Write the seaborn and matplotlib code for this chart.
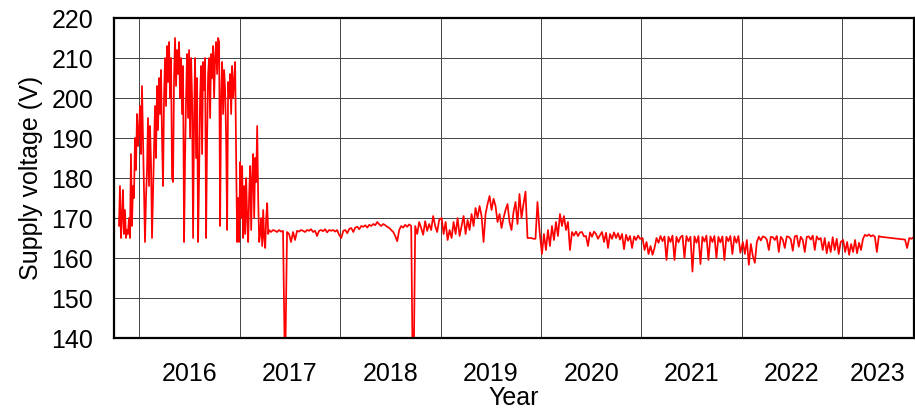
import pandas as pd
import matplotlib
matplotlib.use('Agg')
import matplotlib.pyplot as plt
import matplotlib.dates as mdates
import seaborn as sns

# supply voltage (V), one list per stretch of time
v_2016 = [168, 178, 165, 170, 177, 166, 172, 165, 167, 166,
          170, 165, 186, 168, 178, 175, 190, 182, 196, 188,
          192, 198, 186, 203, 190, 178, 164, 175, 182, 195,
          178, 193, 184, 165, 176, 188, 198, 185, 203, 192,
          205, 196, 207, 190, 178, 200, 210, 198, 213, 204,
          214, 200, 210, 180, 179, 205, 215, 203, 212, 206,
          214, 200, 210, 196, 208, 164, 185, 200, 211, 195,
          212, 190, 210, 200, 165, 195, 210, 185, 205, 164,
          180, 200, 208, 186, 209, 202, 210, 165, 190, 206,
          210, 195, 211, 205, 213, 200, 210, 214, 206, 215,
          214, 168, 200, 209, 196, 207, 202, 190, 167, 204,
          200, 206, 196, 208, 200, 204, 209, 185, 164, 175,
          164, 184, 170, 183, 165, 178, 166, 180, 170, 164,
          176, 183, 167, 180, 186, 170, 185, 179, 193, 175,
          164, 166, 170, 163, 172, 165, 162.5, 170, 173.7, 166]
v_2017 = [167, 166.5, 167, 166.8, 166.5, 167, 166.6, 166.8, 130, 166.5,
          166, 164, 166.5, 164.5, 166.8, 166.6, 167, 166.8, 166.5, 167,
          166.8, 167.2, 166.5, 166.8, 165.5, 166.8, 167, 166.7, 167.2, 166.4,
          167, 166.8, 167, 166.6, 167, 165.8]
v_2018 = [165, 166.8, 167, 166.2, 167.3, 167.5, 166.5, 167.6, 167.8, 167.2,
          168, 167.8, 168.2, 167.6, 168.3, 168, 168.5, 168.2, 169, 168.4,
          168, 168.5, 168.2, 167.8, 167.5, 167, 166.5, 165.5, 164.2, 167,
          168, 167.6, 168.3, 167.8, 168.4, 168, 120, 168, 166, 169,
          167.5, 165.8, 169.2, 166.8, 168.5, 167, 170.5, 168, 166.5, 169.5]
v_2019 = [170, 166, 169, 164.5, 167, 165, 169, 166, 170, 165.5,
          168, 170.5, 166, 169.5, 167, 171, 168, 172.5, 170, 173,
          170.5, 164, 171, 173.5, 175.5, 172, 174.8, 173, 169, 171,
          167.5, 170, 172, 173.5, 169, 167, 171.5, 174, 168.5, 176,
          170, 173.5, 176.6, 165, 165, 165, 164.8, 164.8, 174, 167]
v_2020 = [161, 166, 162, 167, 163, 168, 164.5, 169, 165.5, 171,
          168, 170.5, 167, 169, 162, 166.5, 165.6, 166.6, 165.5, 166.4,
          166.5, 165.4, 165.5, 163, 166.4, 165.3, 166.6, 166, 164.8, 165.7,
          166.5, 164, 166.3, 162.5, 166, 164.8, 166.4, 165, 166.2, 164.6,
          166, 162.2, 165.8, 164.3, 165.5, 162.5, 165.4, 164.5, 165.6, 164.8]
v_2021 = [165, 162, 164, 161, 163, 160.8, 162.5, 165, 163.8, 165.5,
          164.2, 165.4, 159.5, 165.3, 164, 165.6, 159.5, 165.3, 163.9, 165.2,
          165.6, 160, 165.5, 164.2, 165.3, 156.6, 165.4, 163.8, 165.5, 158.5,
          165.3, 164.1, 165.6, 159.5, 165.4, 164, 165.5, 160, 165.3, 163.9,
          165.4, 159.5, 165.3, 164.2, 165.5, 161, 165.4, 163.8, 165.5, 161.3]
v_2022 = [164, 161, 164.5, 158.3, 163.5, 160.5, 158.8, 164, 165.3, 164.4,
          165.4, 165.2, 164.6, 162, 165.3, 165.2, 164.5, 165.5, 161.5, 165.3,
          164.6, 162.5, 165.4, 165.3, 164.7, 161.8, 165.4, 165.6, 162.8, 165.3,
          164.5, 161.5, 165.3, 165.4, 164.6, 165.6, 162, 165.4, 164.6, 165,
          162, 165, 161.2, 164, 161.5, 165.2, 162, 164.8, 161, 164]
v_2023a = [164.5, 161.5, 164, 160.8, 163.5, 161.5, 164.5, 161.2, 163.8, 162,
           164.8, 165.8, 165.5, 165.9, 165.4, 165.7, 165.3, 161.5, 165.5, 165.3]
v_2023b = [164.6, 162.5, 165, 164.8, 165.2]

stretches = [v_2016, v_2017, v_2018, v_2019, v_2020, v_2021, v_2022, v_2023a, v_2023b]
# first and last reading date of each stretch
spans = [('2015-10-19', '2017-04-14'), ('2017-04-17', '2017-12-28'),
         ('2018-01-05', '2018-12-27'), ('2019-01-05', '2019-12-27'),
         ('2020-01-05', '2020-12-27'), ('2021-01-05', '2021-12-27'),
         ('2022-01-05', '2022-12-27'), ('2023-01-05', '2023-05-22'),
         ('2023-08-18', '2023-09-18')]
years = [2016, 2017, 2018, 2019, 2020, 2021, 2022, 2023]
x_start, x_end = pd.Timestamp('2015-10-01'), pd.Timestamp('2023-09-20')

parts = []
for vals, (a, b) in zip(stretches, spans):
    parts.append(pd.DataFrame({'date': pd.date_range(a, b, periods=len(vals)),
                               'voltage': vals}))
df = pd.concat(parts, ignore_index=True)

sns.set_style('white')
plt.rcParams['font.family'] = ['Liberation Sans', 'DejaVu Sans']
plt.rcParams['text.color'] = 'black'
plt.rcParams['axes.labelcolor'] = 'black'
plt.rcParams['xtick.color'] = 'black'
plt.rcParams['ytick.color'] = 'black'

fig = plt.figure(figsize=(9.15, 4.12), dpi=100)
ax = fig.add_axes([0.1246, 0.1796, 0.8744, 0.7767])
sns.lineplot(data=df, x='date', y='voltage', color='red', lw=1.25,
             estimator=None, sort=False, ax=ax)

ax.set_xlim(x_start, x_end)
ax.set_ylim(140, 220)
ax.set_yticks(range(140, 221, 10))

# year boundaries as major ticks/grid, year names centred on the visible part of each year
ax.xaxis.set_major_locator(mdates.YearLocator())
ax.xaxis.set_major_formatter(plt.NullFormatter())
mids = []
for y in years:
    a = max(pd.Timestamp(f'{y}-01-01'), x_start)
    b = min(pd.Timestamp(f'{y + 1}-01-01'), x_end)
    mids.append(mdates.date2num(a + (b - a) / 2))
ax.set_xticks(mids, minor=True)
ax.set_xticklabels([str(y) for y in years], minor=True)

ax.tick_params(axis='x', which='major', direction='out', length=8.5, width=0.8, color='black')
ax.tick_params(axis='x', which='minor', length=0, pad=17, labelsize=18, labelcolor='black')
ax.tick_params(axis='y', direction='out', length=8, width=0.8, color='black', pad=7,
               labelsize=18, labelcolor='black')
ax.set_axisbelow(True)
ax.grid(True, which='major', color='#444444', lw=0.7)
for s in ax.spines.values():
    s.set_color('black')
    s.set_linewidth(1.6)

ax.set_xlabel('Year', fontsize=18, labelpad=0, color='black')
ax.set_ylabel('Supply voltage (V)', fontsize=18, labelpad=6, color='black')

fig.savefig('out.png', dpi=100)
